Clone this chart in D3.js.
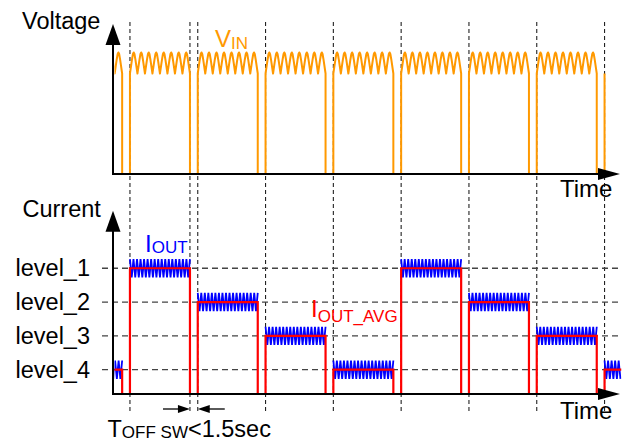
<!DOCTYPE html>
<html lang="en">
<head>
<meta charset="utf-8">
<title>Voltage / current steps</title>
<script src="https://d3js.org/d3.v7.min.js"></script>
<style>
  body { margin: 0; background: #fff; }
  text { font-family: "Liberation Sans", Arial, sans-serif; }
</style>
</head>
<body>
<script>
// time is in "periods": one level step per period
const switchOn = [-1, 0, 1, 2, 3, 4, 5, 6, 7];
const onTime = 0.885;                 // fraction of a period that VIN is present
const vinStop = 7;                    // VIN trace ends at this rise
const markers = [0, 0.885, 1, 2, 3, 4, 5, 6, 7];

const levelNames = ["level_1", "level_2", "level_3", "level_4"];
const levelValues = [3.72, 2.72, 1.72, 0.72];
const iOutAvg = [0.72, 3.72, 2.72, 1.72, 0.72, 3.72, 2.72, 1.72, 0.72];
const iRipple = 0.27;
const iCycles = 17;

const vinValley = 6.7;
const vinPeak = 8.1;
const vinCycles = 8;
// one ripple cycle of the rectified input (phase, fraction of valley->peak)
const vinShape = [[0, 0], [0.28, 0.68], [0.4, 0.93], [0.5, 1], [0.6, 0.93], [0.72, 0.68], [1, 0]];
const ioutShape = [[0, 1], [0.5, -1], [1, 1]];

const w = 627, h = 441;
const orange = "#FF9900", blue = "#0000FF", red = "#FF0000";

const svg = d3.select("body").append("svg")
  .attr("width", w).attr("height", h);

const x = d3.scaleLinear().domain([-0.25, 7.25]).range([113, 621.5]);
const yV = d3.scaleLinear().domain([0, 10]).range([174, 24]);
const yI = d3.scaleLinear().domain([0, 5.42]).range([394, 210.8]);

const defs = svg.append("defs");
defs.append("clipPath").attr("id", "plot")
  .append("rect").attr("x", 114.5).attr("y", 0).attr("width", 621.5 - 114.5).attr("height", h);

// vertical dashed markers
svg.append("g").selectAll("line").data(markers).enter().append("line")
  .attr("x1", d => x(d)).attr("x2", d => x(d))
  .attr("y1", 22).attr("y2", 412)
  .attr("stroke", "#222").attr("stroke-width", 1.1)
  .attr("stroke-dasharray", "4,3");

// horizontal level lines
svg.append("g").selectAll("line").data(levelValues).enter().append("line")
  .attr("x1", 102).attr("x2", 621)
  .attr("y1", d => yI(d)).attr("y2", d => yI(d))
  .attr("stroke", "#444").attr("stroke-width", 1.3)
  .attr("stroke-dasharray", "6,4");

svg.append("g").selectAll("text").data(levelNames).enter().append("text")
  .attr("x", 90).attr("y", (d, i) => yI(levelValues[i]) + 8)
  .attr("text-anchor", "end").attr("font-size", 23.5).text(d => d);

// VIN trace
const vinPts = [];
switchOn.forEach(s => {
  vinPts.push([s, 0], [s, vinValley]);
  if (s >= vinStop) return;
  const cyc = onTime / vinCycles;
  for (let c = 0; c < vinCycles; c++) {
    vinShape.forEach((p, j) => {
      if (j === 0) return;
      vinPts.push([s + (c + p[0]) * cyc, vinValley + p[1] * (vinPeak - vinValley)]);
    });
  }
  vinPts.push([s + onTime, 0]);
});
const lineV = d3.line().x(d => x(d[0])).y(d => yV(d[1]));
svg.append("path").attr("clip-path", "url(#plot)")
  .attr("d", lineV(vinPts))
  .attr("fill", "none").attr("stroke", orange).attr("stroke-width", 2)
  .attr("stroke-linejoin", "round");

// IOUT ripple
const tEnd = x.domain()[1];
const lineI = d3.line().x(d => x(d[0])).y(d => yI(d[1]));
const ripples = switchOn.map((s, k) => {
  const end = Math.min(s + onTime, tEnd);
  const cyc = onTime / iCycles;
  const pts = [];
  for (let c = 0; s + c * cyc < end; c++) {
    ioutShape.forEach((p, j) => {
      if (j === 0 && c > 0) return;
      const t = s + (c + p[0]) * cyc;
      if (t <= end) pts.push([t, iOutAvg[k] + p[1] * iRipple]);
    });
  }
  return pts;
});
svg.append("g").attr("clip-path", "url(#plot)").selectAll("path").data(ripples).enter().append("path")
  .attr("d", d => lineI(d))
  .attr("fill", "none").attr("stroke", blue).attr("stroke-width", 1.8);

// IOUT_AVG steps
const avgPts = [];
switchOn.forEach((s, k) => {
  const end = Math.min(s + onTime, tEnd);
  avgPts.push([s, 0], [s, iOutAvg[k]], [end, iOutAvg[k]]);
  if (end < tEnd) avgPts.push([end, 0]);
});
svg.append("path").attr("clip-path", "url(#plot)")
  .attr("d", lineI(avgPts))
  .attr("fill", "none").attr("stroke", red).attr("stroke-width", 2.2);

// axes with arrow heads
function axes(yScale, top) {
  const y0 = yScale(0);
  svg.append("line").attr("x1", 113).attr("x2", 113).attr("y1", y0).attr("y2", top + 20)
    .attr("stroke", "#000").attr("stroke-width", 2);
  svg.append("line").attr("x1", 112).attr("x2", 602).attr("y1", y0).attr("y2", y0)
    .attr("stroke", "#000").attr("stroke-width", 2);
  svg.append("path").attr("d", `M105.5,${top + 21}L113,${top}L120.5,${top + 21}Z`).attr("fill", "#000");
  svg.append("path").attr("d", `M598,${y0 - 6}L620,${y0}L598,${y0 + 6}Z`).attr("fill", "#000");
}
axes(yV, yV(10));
axes(yI, yI(5.42));

svg.append("text").attr("x", 22).attr("y", 29).attr("font-size", 23.5).text("Voltage");
svg.append("text").attr("x", 22.5).attr("y", 217).attr("font-size", 23.5).text("Current");
svg.append("text").attr("x", 560).attr("y", 197).attr("font-size", 24).text("Time");
svg.append("text").attr("x", 560).attr("y", 419).attr("font-size", 24).text("Time");

function subLabel(px, py, main, sub, color, dy) {
  const t = svg.append("text").attr("x", px).attr("y", py).attr("font-size", 24).attr("fill", color);
  t.append("tspan").text(main);
  t.append("tspan").attr("font-size", 17).attr("dy", dy).text(sub);
  return t;
}
subLabel(215, 46.7, "V", "IN", orange, 2.6);
subLabel(145, 251.7, "I", "OUT", blue, 1.3);
subLabel(311, 317.3, "I", "OUT_AVG", red, 4.4);

const toff = svg.append("text").attr("x", 107.5).attr("y", 436.7).attr("font-size", 23.5);
toff.append("tspan").text("T");
toff.append("tspan").attr("font-size", 17).attr("dy", 1.3).text("OFF SW");
toff.append("tspan").attr("dy", -1.3).text("<1.5sec");

// T_OFF arrows
const ay = 409;
const xa = x(markers[1]), xb = x(markers[2]);
svg.append("line").attr("x1", xa - 27).attr("x2", xa - 4).attr("y1", ay).attr("y2", ay).attr("stroke", "#000").attr("stroke-width", 1.3);
svg.append("path").attr("d", `M${xa - 12},${ay - 4}L${xa},${ay}L${xa - 12},${ay + 4}Z`).attr("fill", "#000");
svg.append("line").attr("x1", xb + 4).attr("x2", xb + 27).attr("y1", ay).attr("y2", ay).attr("stroke", "#000").attr("stroke-width", 1.3);
svg.append("path").attr("d", `M${xb + 12},${ay - 4}L${xb},${ay}L${xb + 12},${ay + 4}Z`).attr("fill", "#000");
</script>
</body>
</html>
